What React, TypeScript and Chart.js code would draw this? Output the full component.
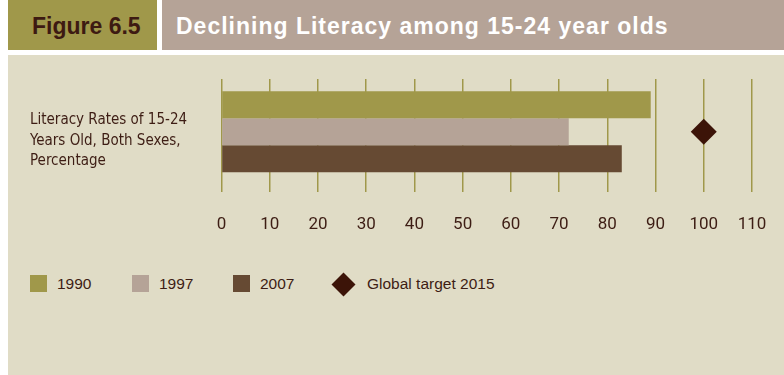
import React, { useEffect, useRef } from "react";
import { Chart, registerables } from "chart.js";

Chart.register(...registerables);

const categories = [["Literacy Rates of 15-24", "Years Old, Both Sexes,", "Percentage"]];
const seriesNames = ["1990", "1997", "2007"];
const values1990 = [89];
const values1997 = [72];
const values2007 = [83];
const targetName = "Global target 2015";
const targetValues = [100];
const xTicks = [0, 10, 20, 30, 40, 50, 60, 70, 80, 90, 100, 110];

const OLIVE = "#a0984a";
const TAUPE = "#b5a397";
const BROWN = "#664a33";
const DARK = "#3c1408";
const BEIGE = "#e0dcc6";
const TEXT = "#3d1d14";
const NARROW = '"Liberation Sans Narrow", "DejaVu Sans Condensed", sans-serif';
const TICKFONT = 'Roboto, "DejaVu Sans Condensed", sans-serif';
const SANS = '"Liberation Sans", Arial, Helvetica, sans-serif';

export default function App() {
  const ref = useRef<HTMLCanvasElement | null>(null);

  useEffect(() => {
    if (!ref.current) return;
    const chart = new Chart(ref.current, {
      type: "bar",
      data: {
        labels: categories as any,
        datasets: [
          { label: seriesNames[0], data: values1990, backgroundColor: OLIVE, order: 2 },
          { label: seriesNames[1], data: values1997, backgroundColor: TAUPE, order: 2 },
          { label: seriesNames[2], data: values2007, backgroundColor: BROWN, order: 2 },
          {
            type: "line" as any,
            label: targetName,
            data: targetValues,
            showLine: false,
            pointStyle: "rectRot",
            pointRadius: 13,
            pointHoverRadius: 13,
            backgroundColor: DARK,
            borderColor: DARK,
            borderWidth: 0,
            order: 1,
          } as any,
        ],
      },
      options: {
        indexAxis: "y",
        animation: false,
        responsive: false,
        maintainAspectRatio: false,
        events: [],
        layout: { padding: { left: 22, top: 24, right: 32, bottom: 0 } },
        datasets: { bar: { categoryPercentage: 0.77, barPercentage: 1 } } as any,
        plugins: { legend: { display: false }, tooltip: { enabled: false } },
        scales: {
          x: {
            type: "linear",
            min: 0,
            max: 110,
            afterBuildTicks: (s: any) => {
              s.ticks = xTicks.map((v) => ({ value: v }));
            },
            afterFit: (s: any) => {
              s.height = 60.5;
              s.paddingLeft = 0;
              s.paddingRight = 0;
            },
            border: { display: false },
            grid: {
              color: OLIVE,
              tickColor: OLIVE,
              lineWidth: 1.5,
              drawTicks: true,
              tickLength: 7.5,
            },
            ticks: {
              color: TEXT,
              padding: 23,
              font: { family: TICKFONT, size: 17 },
            },
          },
          y: {
            type: "category",
            afterFit: (s: any) => {
              s.width = 191.5;
              s.paddingTop = 0;
              s.paddingBottom = 0;
            },
            border: { display: false },
            grid: { display: false, drawTicks: false },
            ticks: {
              color: TEXT,
              crossAlign: "far",
              labelOffset: 9,
              font: { family: NARROW, size: 15, lineHeight: 1.36 },
            },
          },
        },
      },
    });
    return () => chart.destroy();
  }, []);

  const legendItems = [
    { name: seriesNames[0], color: OLIVE, x: 30, tx: 57, shape: "square" },
    { name: seriesNames[1], color: TAUPE, x: 132, tx: 159, shape: "square" },
    { name: seriesNames[2], color: BROWN, x: 233, tx: 260, shape: "square" },
    { name: targetName, color: DARK, x: 335, tx: 367, shape: "diamond" },
  ];

  return (
    <div style={{ position: "absolute", left: 0, top: 0, width: 784, height: 375, background: "#ffffff", overflow: "hidden" }}>
      <div style={{ position: "absolute", left: 8, top: 0, width: 149, height: 50, background: OLIVE }}>
        <span style={{ position: "absolute", left: 24, top: 13, fontFamily: SANS, fontWeight: 700, fontSize: 23, color: "#3d1a12", whiteSpace: "nowrap", lineHeight: "26px" }}>
          Figure 6.5
        </span>
      </div>
      <div style={{ position: "absolute", left: 162, top: 0, width: 622, height: 50, background: TAUPE }}>
        <span style={{ position: "absolute", left: 14, top: 13, fontFamily: SANS, fontWeight: 700, fontSize: 23, letterSpacing: 1, color: "#ffffff", whiteSpace: "nowrap", lineHeight: "26px" }}>
          Declining Literacy among 15-24 year olds
        </span>
      </div>
      <div style={{ position: "absolute", left: 8, top: 55, width: 776, height: 320, background: BEIGE }} />
      <canvas ref={ref} width={776} height={190} style={{ position: "absolute", left: 8, top: 55, width: 776, height: 190 }} />
      {legendItems.map((it) => (
        <React.Fragment key={it.name}>
          {it.shape === "square" ? (
            <div style={{ position: "absolute", left: it.x, top: 275, width: 17, height: 17, background: it.color }} />
          ) : (
            <div style={{ position: "absolute", left: it.x, top: 276, width: 17, height: 17, background: it.color, transform: "rotate(45deg)" }} />
          )}
          <span style={{ position: "absolute", left: it.tx, top: 274, fontFamily: SANS, fontSize: 15.5, color: TEXT, lineHeight: "20px", whiteSpace: "nowrap" }}>
            {it.name}
          </span>
        </React.Fragment>
      ))}
    </div>
  );
}
